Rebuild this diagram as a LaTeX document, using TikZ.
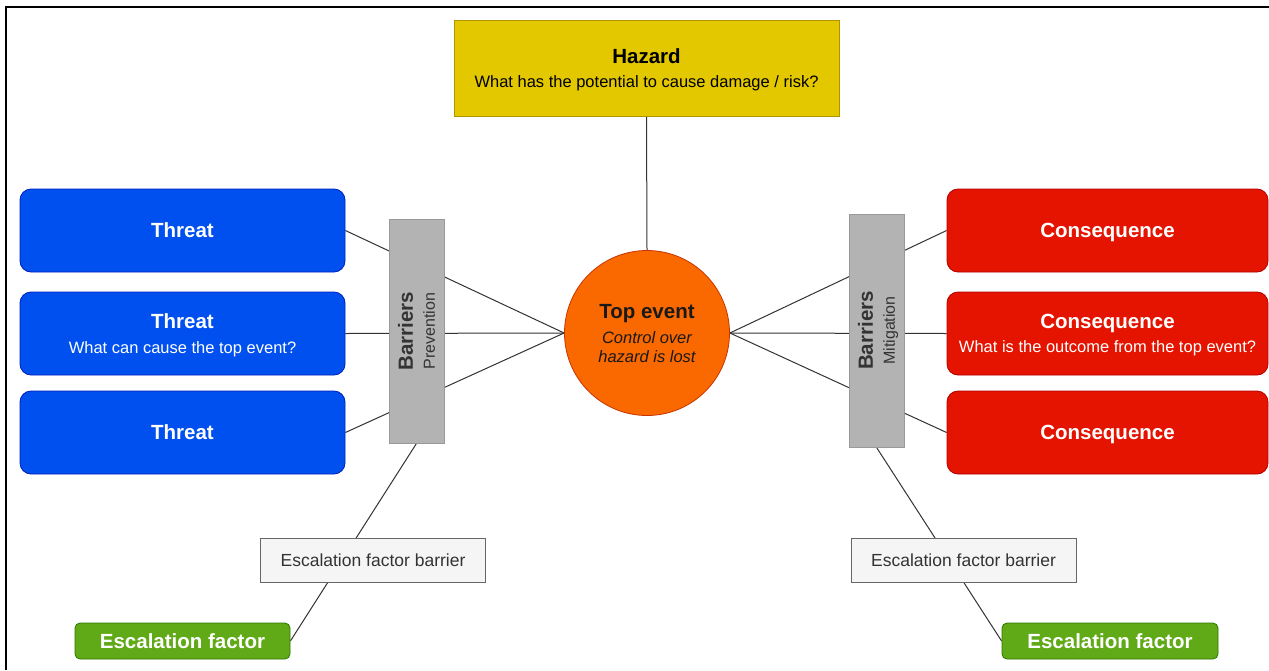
\documentclass[tikz,border=0pt]{standalone}
\usepackage{fontspec}
\setmainfont{Liberation Sans}
\usetikzlibrary{backgrounds}
\definecolor{hazfill}{HTML}{E3C800}
\definecolor{hazdraw}{HTML}{B09500}
\definecolor{topfill}{HTML}{FA6800}
\definecolor{topdraw}{HTML}{C73500}
\definecolor{thrfill}{HTML}{0050EF}
\definecolor{thrdraw}{HTML}{001DBC}
\definecolor{confill}{HTML}{E51400}
\definecolor{condraw}{HTML}{B20000}
\definecolor{effill}{HTML}{60A917}
\definecolor{efdraw}{HTML}{2D7600}
\definecolor{barfill}{HTML}{B3B3B3}
\definecolor{bardraw}{HTML}{999999}
\definecolor{efbfill}{HTML}{F5F5F5}
\definecolor{efbdraw}{HTML}{666666}
\definecolor{txtdark}{HTML}{333333}
\definecolor{linecol}{HTML}{333333}
\newcommand{\ttl}[1]{{\fontsize{20.5}{24}\selectfont\bfseries #1}}
\begin{document}
\begin{tikzpicture}[x=1pt,y=-1pt,
  box/.style={draw, line width=0.8pt, inner sep=0pt, align=center,
    text depth=0pt, font=\fontsize{16.5}{24.5}\selectfont},
  hazardbox/.style={box, fill=hazfill, draw=hazdraw, text=black,
    minimum width=385pt, minimum height=96pt},
  topbox/.style={box, circle, fill=topfill, draw=topdraw, text=black!90,
    minimum size=165pt},
  threatbox/.style={box, rounded corners=11pt, fill=thrfill, draw=thrdraw,
    text=white, minimum width=325pt, minimum height=83pt},
  consbox/.style={box, rounded corners=11pt, fill=confill, draw=condraw,
    text=white, minimum width=321pt, minimum height=83pt},
  barrierbox/.style={box, rotate=90, fill=barfill, draw=bardraw,
    text=txtdark, minimum height=55pt, font=\fontsize{16}{22}\selectfont},
  efbbox/.style={box, fill=efbfill, draw=efbdraw, text=txtdark,
    font=\fontsize{17.5}{22}\selectfont,
    minimum width=225pt, minimum height=44pt},
  efbox/.style={box, rounded corners=5pt, fill=effill, draw=efdraw,
    text=white, minimum height=36pt},
  conn/.style={draw=linecol, line width=1pt}
]
\useasboundingbox (0,0) rectangle (1269,670);
\draw[line width=2pt] (6,670) -- (6,6.7) -- (1269,6.7);

\node[hazardbox] (hazard) at (646.5,68)
  {\ttl{Hazard}\\ What has the potential to cause damage / risk?};

\node[topbox] (top) at (647,333)
  {\ttl{Top event}\\[0.5pt] \itshape Control over\\[-5.5pt] \itshape hazard is lost};

\node[threatbox] (t1) at (182.5,230.5) {\ttl{Threat}};
\node[threatbox] (t2) at (182.5,333.5) {\ttl{Threat}\\ What can cause the top event?};
\node[threatbox] (t3) at (182.5,432.5) {\ttl{Threat}};

\node[consbox] (c1) at (1107.5,230.5) {\ttl{Consequence}};
\node[consbox] (c2) at (1107.5,333.5) {\ttl{Consequence}\\ What is the outcome from the top event?};
\node[consbox] (c3) at (1107.5,432.5) {\ttl{Consequence}};

\node[barrierbox, minimum width=224pt] (prev) at (416.5,331)
  {\ttl{Barriers}\\ Prevention};
\node[barrierbox, minimum width=233pt] (mitig) at (876.5,330.5)
  {\ttl{Barriers}\\ Mitigation};

\node[efbbox] (efbl) at (373,560) {Escalation factor barrier};
\node[efbbox] (efbr) at (963.5,560) {Escalation factor barrier};

\node[efbox, minimum width=215pt] (efl) at (182.5,641) {\ttl{Escalation factor}};
\node[efbox, minimum width=216pt] (efr) at (1110,641) {\ttl{Escalation factor}};

\begin{scope}[on background layer]
  \fill[white] (0,0) rectangle (1269,670);
  \draw[conn] (hazard.south) -- (top.north);
  \draw[conn] (t1.east) -- (top.west);
  \draw[conn] (t2.east) -- (top.west);
  \draw[conn] (t3.east) -- (top.west);
  \draw[conn] (top.east) -- (c1.west);
  \draw[conn] (top.east) -- (c2.west);
  \draw[conn] (top.east) -- (c3.west);
  \draw[conn] (prev.west) -- (efl.east);
  \draw[conn] (mitig.west) -- (efr.west);
\end{scope}
\end{tikzpicture}
\end{document}
